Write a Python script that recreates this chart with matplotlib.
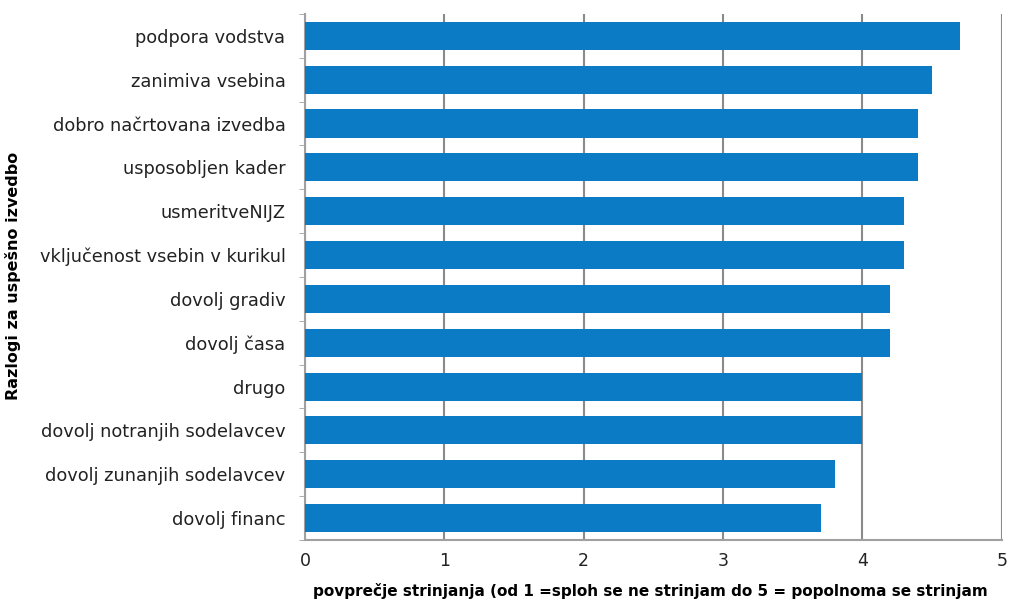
import matplotlib.pyplot as plt
from matplotlib.ticker import FixedLocator

plt.rcParams['font.family'] = ['DejaVu Sans']

# razlogi za uspešno izvedbo, od spodaj navzgor
razlogi = [
    "dovolj financ",
    "dovolj zunanjih sodelavcev",
    "dovolj notranjih sodelavcev",
    "drugo",
    "dovolj časa",
    "dovolj gradiv",
    "vključenost vsebin v kurikul",
    "usmeritveNIJZ",
    "usposobljen kader",
    "dobro načrtovana izvedba",
    "zanimiva vsebina",
    "podpora vodstva",
]
povprecje = [3.7, 3.8, 4.0, 4.0, 4.2, 4.2, 4.3, 4.3, 4.4, 4.4, 4.5, 4.7]
x_ticks = [0, 1, 2, 3, 4, 5]

fig = plt.figure(figsize=(10.13, 6.06), dpi=100)
ax = fig.add_axes([0.301, 0.109, 0.688, 0.868])

pos = list(range(len(razlogi)))
ax.barh(pos, povprecje, height=0.64, color="#0A7BC4", zorder=3)

ax.set_xlim(0, 5)
ax.set_ylim(-0.5, len(razlogi) - 0.5)
ax.set_xticks(x_ticks)
ax.set_yticks(pos)
ax.set_yticklabels(razlogi, fontsize=12.8, color="#222222")
ax.yaxis.set_minor_locator(FixedLocator([p + 0.5 for p in range(-1, len(razlogi))]))
ax.tick_params(axis="y", which="major", length=0, pad=14)
ax.tick_params(axis="y", which="minor", length=4, color="#a0a0a0")
ax.tick_params(axis="x", length=0, pad=9, labelsize=12.5, labelcolor="#222222")

ax.grid(axis="x", color="#8a8a8a", linewidth=1.5, zorder=0)
for side in ["top", "right"]:
    ax.spines[side].set_visible(False)
for side in ["left", "bottom"]:
    ax.spines[side].set_color("#a0a0a0")
    ax.spines[side].set_linewidth(1.5)

fig.text(0.309, 0.012, "povprečje strinjanja (od 1 =sploh se ne strinjam do 5 = popolnoma se strinjam",
         fontsize=11.0, fontweight="bold", ha="left", va="bottom")
fig.text(0.013, 0.545, "Razlogi za uspešno izvedbo", fontsize=11.5, fontweight="bold",
         rotation=90, ha="center", va="center")

fig.savefig("out.png", dpi=100)
